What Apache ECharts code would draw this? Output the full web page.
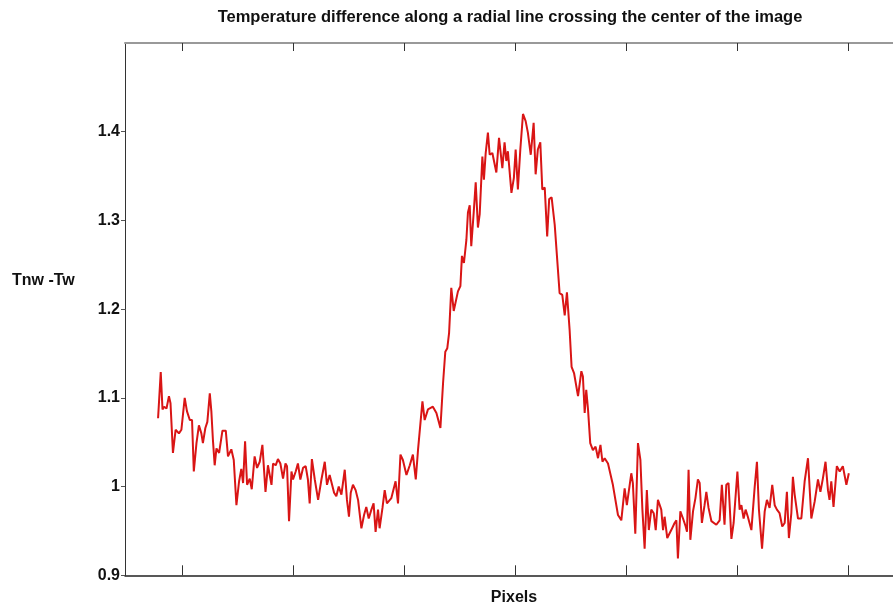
<!DOCTYPE html>
<html>
<head>
<meta charset="utf-8">
<script src="https://cdn.jsdelivr.net/npm/echarts@6/dist/echarts.min.js"></script>
<style>
  html, body { margin: 0; padding: 0; background: #fff; }
  #chart { width: 893px; height: 607px; }
</style>
</head>
<body>
<div id="chart"></div>
<script>
// Position along the radial line (pixel index)
const pixelIdx = [
  38.9, 40.1, 40.9, 41.6, 42.7, 43.8, 44.5, 45.6, 46.8, 48.3, 49.4, 50.9, 51.9, 53.2, 54.2, 55.0, 56.2, 57.3, 58.4, 59.1,
  60.2, 61.1, 62.2, 62.9, 63.6, 64.4, 65.2, 66.4, 67.9, 69.4, 70.4, 71.9, 73.0, 74.2, 75.4, 76.4, 77.2, 78.1, 79.0, 80.2,
  81.1, 82.4, 83.5, 84.7, 85.9, 86.6, 87.3, 88.4, 89.2, 90.0, 90.7, 91.9, 92.9, 94.0, 95.2, 96.3, 97.0, 97.9, 99.0, 99.7,
  100.9, 101.9, 103.0, 104.2, 105.4, 106.4, 107.2, 108.2, 109.5, 111.0, 112.5, 114.0, 115.0, 116.2, 117.1, 118.2, 119.2, 120.3, 121.5, 123.0,
  124.0, 124.9, 125.7, 126.7, 127.9, 129.0, 130.5, 131.7, 132.7, 133.8, 135.0, 136.0, 136.9, 138.0, 138.7, 140.0, 141.0, 142.0, 144.0, 145.9,
  147.0, 148.1, 149.2, 150.8, 152.3, 153.7, 155.0, 156.0, 158.0, 159.0, 160.5, 162.7, 164.3, 165.0, 166.1, 167.3, 168.3, 169.2, 170.0, 171.0,
  172.1, 173.0, 174.0, 175.1, 175.8, 176.7, 177.8, 178.5, 179.3, 180.0, 181.1, 182.0, 183.0, 183.8, 185.0, 185.7, 186.5, 187.5, 188.3, 189.5,
  191.3, 192.5, 193.2, 194.0, 195.0, 195.8, 196.5, 198.1, 199.2, 200.0, 201.0, 202.1, 203.3, 204.5, 205.5, 206.8, 208.1, 209.0, 210.0, 211.1,
  212.0, 213.1, 214.2, 215.1, 216.2, 217.6, 219.8, 221.0, 222.1, 223.1, 224.3, 225.2, 226.3, 228.1, 229.6, 230.3, 231.1, 231.8, 232.6, 233.6,
  234.8, 236.0, 237.1, 238.2, 239.1, 240.1, 241.6, 243.8, 246.1, 247.6, 249.1, 250.1, 252.1, 252.8, 253.9, 255.1, 256.2, 257.1, 258.1, 259.1,
  260.0, 261.1, 262.2, 263.1, 264.1, 265.6, 266.4, 267.1, 268.3, 270.1, 271.6, 272.4, 273.1, 274.2, 275.4, 276.6, 277.2, 277.9, 278.7, 279.9,
  281.0, 282.1, 282.9, 283.9, 285.1, 285.9, 286.9, 288.2, 290.4, 291.9, 292.9, 294.1, 294.9, 295.9, 297.2, 298.2, 299.9, 300.9, 301.7, 302.7,
  303.6, 304.6, 306.2, 307.7, 308.7, 309.6, 311.0, 312.2, 313.2, 314.4, 315.6, 316.7, 317.7, 318.9, 320.1, 321.2, 322.2, 323.1, 324.2, 324.9,
  325.7, 327.2, 328.7, 330.2, 331.7, 333.2, 334.7, 336.2, 337.3, 338.4, 339.6, 340.7, 341.4, 342.2, 343.2, 344.7, 346.0, 347.4, 349.0, 350.1
];

// Temperature difference Tnw - Tw at each position
const tempDiff = [
  1.077, 1.129, 1.087, 1.090, 1.088, 1.102, 1.094, 1.038, 1.064, 1.060, 1.064, 1.100, 1.085, 1.075, 1.075, 1.017, 1.049, 1.069, 1.060, 1.049,
  1.066, 1.073, 1.105, 1.085, 1.053, 1.024, 1.043, 1.038, 1.063, 1.063, 1.034, 1.042, 1.030, 0.979, 1.006, 1.020, 1.004, 1.051, 1.002, 1.009,
  0.997, 1.034, 1.021, 1.028, 1.047, 1.045, 0.994, 1.024, 1.023, 1.002, 1.026, 1.024, 1.031, 1.026, 1.009, 1.026, 1.023, 0.961, 1.017, 1.008,
  1.017, 1.026, 1.008, 1.021, 1.023, 1.008, 0.981, 1.031, 1.008, 0.985, 1.008, 1.028, 1.002, 1.013, 1.015, 0.993, 0.989, 1.000, 0.991, 1.019,
  0.985, 0.966, 0.993, 1.002, 0.996, 0.985, 0.953, 0.968, 0.977, 0.964, 0.974, 0.981, 0.949, 0.974, 0.953, 0.976, 0.996, 0.981, 0.987, 1.006,
  0.981, 1.036, 1.030, 1.013, 1.024, 1.036, 1.008, 1.041, 1.096, 1.075, 1.087, 1.090, 1.083, 1.085, 1.066, 1.117, 1.152, 1.156, 1.173, 1.224,
  1.198, 1.196, 1.220, 1.226, 1.260, 1.252, 1.278, 1.309, 1.317, 1.271, 1.309, 1.343, 1.292, 1.307, 1.372, 1.346, 1.376, 1.399, 1.374, 1.376,
  1.354, 1.393, 1.395, 1.359, 1.388, 1.367, 1.378, 1.331, 1.348, 1.380, 1.335, 1.380, 1.420, 1.412, 1.399, 1.374, 1.410, 1.352, 1.380, 1.388,
  1.335, 1.337, 1.282, 1.324, 1.326, 1.295, 1.218, 1.216, 1.193, 1.219, 1.177, 1.135, 1.128, 1.102, 1.130, 1.124, 1.083, 1.109, 1.087, 1.049,
  1.041, 1.045, 1.032, 1.047, 1.028, 1.032, 1.026, 1.002, 0.968, 0.962, 0.998, 0.979, 1.015, 1.004, 0.947, 1.049, 1.030, 0.974, 0.930, 0.996,
  0.951, 0.974, 0.970, 0.951, 0.985, 0.974, 0.951, 0.966, 0.942, 0.951, 0.959, 0.962, 0.919, 0.972, 0.964, 0.955, 0.949, 1.019, 0.940, 0.972,
  0.987, 1.008, 1.004, 0.959, 0.979, 0.994, 0.976, 0.961, 0.957, 0.962, 1.002, 0.957, 1.002, 1.004, 0.941, 0.959, 1.017, 0.974, 0.979, 0.964,
  0.974, 0.966, 0.951, 1.000, 1.028, 0.974, 0.930, 0.972, 0.985, 0.976, 1.002, 0.979, 0.974, 0.970, 0.955, 0.959, 0.994, 0.942, 0.970, 1.011,
  0.991, 0.964, 0.964, 1.006, 1.032, 0.964, 0.983, 1.008, 0.994, 1.009, 1.028, 0.996, 0.985, 1.006, 0.977, 1.023, 1.017, 1.023, 1.002, 1.015
];

// Tick positions
const xTicks = [50, 100, 150, 200, 250, 300, 350];
const yTicks = [0.9, 1, 1.1, 1.2, 1.3, 1.4];

const titleText = 'Temperature difference along a radial line crossing the center of the image';
const yName = 'Tnw -Tw';
const xName = 'Pixels';

const chart = echarts.init(document.getElementById('chart'), null, { renderer: 'canvas' });

const font = '"Liberation Sans", Arial, sans-serif';

chart.setOption({
  backgroundColor: '#ffffff',
  animation: false,
  // plot area runs to the right edge of the canvas (no right border shown)
  grid: { left: 125, top: 43, right: 0, bottom: 31.7, containLabel: false },
  graphic: [
    {
      type: 'text', x: 510, y: 17,
      style: { text: titleText, font: 'bold 16.5px ' + font, fill: '#111', align: 'center', verticalAlign: 'middle' }
    },
    {
      type: 'text', x: 12, y: 281,
      style: { text: yName, font: 'bold 16px ' + font, fill: '#111', align: 'left', verticalAlign: 'middle' }
    },
    {
      type: 'text', x: 514, y: 598,
      style: { text: xName, font: 'bold 16px ' + font, fill: '#111', align: 'center', verticalAlign: 'middle' }
    }
  ],
  xAxis: [
    {
      type: 'value', position: 'bottom', min: 24, max: 370,
      axisLine: { show: true, onZero: false, lineStyle: { color: '#222', width: 1.5 } },
      axisTick: { show: true, inside: true, length: 10, customValues: xTicks, lineStyle: { color: '#333', width: 1 } },
      axisLabel: { show: false },
      splitLine: { show: false }
    },
    {
      type: 'value', position: 'top', min: 24, max: 370,
      axisLine: { show: true, onZero: false, lineStyle: { color: '#999', width: 2 } },
      axisTick: { show: true, inside: true, length: 8, customValues: xTicks, lineStyle: { color: '#333', width: 1 } },
      axisLabel: { show: false },
      splitLine: { show: false }
    }
  ],
  yAxis: {
    type: 'value', min: 0.9, max: 1.5,
    axisLine: { show: true, onZero: false, lineStyle: { color: '#333', width: 1 } },
    axisTick: { show: true, inside: false, length: 4, customValues: yTicks, lineStyle: { color: '#555', width: 1 } },
    axisLabel: {
      show: true, customValues: yTicks, margin: 5,
      fontFamily: font, fontWeight: 'bold', fontSize: 16, color: '#111',
      formatter: v => String(Math.round(v * 10) / 10)
    },
    splitLine: { show: false }
  },
  series: [{
    type: 'line',
    data: pixelIdx.map((x, i) => [x, tempDiff[i]]),
    showSymbol: false,
    symbol: 'none',
    lineStyle: { color: '#d91515', width: 2 },
    clip: true
  }]
});
</script>
</body>
</html>
